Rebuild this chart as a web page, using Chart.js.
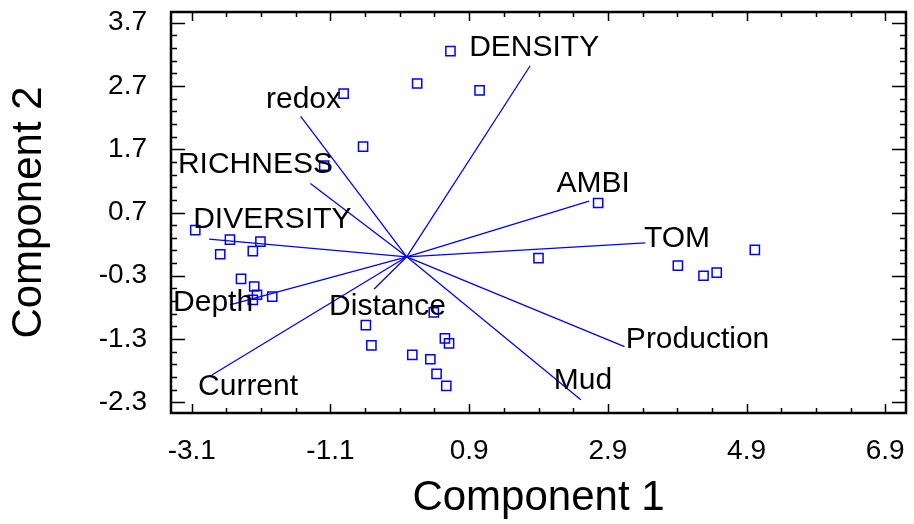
<!DOCTYPE html>
<html>
<head>
<meta charset="utf-8">
<script src="https://cdn.jsdelivr.net/npm/chart.js@4/dist/chart.umd.min.js"></script>
<style>
  html, body { margin: 0; padding: 0; background: #fff; }
  #wrap { width: 914px; height: 524px; }
</style>
</head>
<body>
<div id="wrap"><canvas id="biplot"></canvas></div>
<script>
// Tick labels
const xTicks = [-3.1, -1.1, 0.9, 2.9, 4.9, 6.9];
const yTicks = [-2.3, -1.3, -0.3, 0.7, 1.7, 2.7, 3.7];

// Observation scores (squares)
const scoreX = [0.63, 0.15, 1.05, -0.91, -0.63, -1.19, 2.76,
  -3.05, -2.55, -2.11, -2.69, -2.22, -2.39, -2.20, -2.16, -2.22, -1.94,
  0.39, -0.59, -0.51, 0.55, 0.61, 0.08, 0.34, 0.43, 0.57,
  1.90, 3.91, 4.28, 4.47, 5.02];
const scoreY = [3.25, 2.74, 2.63, 2.58, 1.74, 1.44, 0.85,
  0.42, 0.27, 0.24, 0.04, 0.09, -0.35, -0.47, -0.60, -0.68, -0.63,
  -0.88, -1.08, -1.40, -1.29, -1.37, -1.55, -1.62, -1.85, -2.04,
  -0.02, -0.14, -0.30, -0.25, 0.11];

// Variable loadings (vectors from origin)
const varNames = ['DENSITY', 'redox', 'RICHNESS', 'DIVERSITY', 'Depth', 'Current',
  'Distance', 'AMBI', 'TOM', 'Production', 'Mud'];
const loadX = [1.78, -1.53, -1.39, -2.85, -2.55, -2.81, -0.47, 2.63, 3.44, 3.14, 2.51];
const loadY = [3.02, 2.22, 1.16, 0.28, -0.76, -1.87, -0.51, 0.88, 0.22, -1.42, -2.26];
// where each variable name sits (data units, left edge / middle)
const labelX = [0.9, -2.03, -3.3, -3.08, -3.37, -3.01, -1.12, 2.16, 3.42, 3.16, 2.12];
const labelY = [3.31, 2.48, 1.46, 0.59, -0.73, -2.06, -0.79, 1.16, 0.29, -1.31, -1.96];

const BLUE = '#0000ff';
const FONT = '"Liberation Sans", Arial, sans-serif';

const datasets = [{
  type: 'scatter',
  data: scoreX.map((x, i) => ({ x: x, y: scoreY[i] })),
  pointStyle: 'rect',
  pointRadius: 6.5,
  borderColor: BLUE,
  backgroundColor: 'rgba(0,0,0,0)',
  borderWidth: 1.5
}];
varNames.forEach((name, i) => {
  datasets.push({
    type: 'line',
    label: name,
    data: [{ x: 0, y: 0 }, { x: loadX[i], y: loadY[i] }],
    borderColor: BLUE,
    borderWidth: 1.3,
    pointRadius: 0,
    fill: false
  });
});

function minorList(majors, parts) {
  const out = [];
  for (let i = 0; i < majors.length - 1; i++) {
    const step = (majors[i + 1] - majors[i]) / parts;
    for (let k = 1; k < parts; k++) out.push(majors[i] + k * step);
  }
  return out;
}

// frame, inward ticks and variable names
const framePlugin = {
  id: 'frame',
  afterDatasetsDraw(chart) {
    const { ctx, chartArea: a, scales } = chart;
    const xs = scales.x, ys = scales.y;
    ctx.save();
    ctx.strokeStyle = '#000';
    ctx.lineWidth = 1.5;
    ctx.beginPath();
    const tickX = (vals, len) => vals.forEach(v => {
      const px = Math.round(xs.getPixelForValue(v)) + 0.5;
      ctx.moveTo(px, a.bottom); ctx.lineTo(px, a.bottom - len);
      ctx.moveTo(px, a.top); ctx.lineTo(px, a.top + len);
    });
    const tickY = (vals, len) => vals.forEach(v => {
      const py = Math.round(ys.getPixelForValue(v)) + 0.5;
      ctx.moveTo(a.left, py); ctx.lineTo(a.left + len, py);
      ctx.moveTo(a.right, py); ctx.lineTo(a.right - len, py);
    });
    tickX(xTicks, 9);
    tickX(minorList(xTicks, 4), 5);
    tickY(yTicks, 14);
    tickY(minorList(yTicks, 5), 6);
    ctx.stroke();
    ctx.lineWidth = 2.5;
    ctx.strokeRect(a.left, a.top, a.right - a.left, a.bottom - a.top);

    ctx.fillStyle = '#000';
    ctx.font = '30px ' + FONT;
    ctx.textAlign = 'left';
    ctx.textBaseline = 'middle';
    varNames.forEach((name, i) => {
      ctx.fillText(name, xs.getPixelForValue(labelX[i]), ys.getPixelForValue(labelY[i]));
    });
    ctx.restore();
  }
};

new Chart(document.getElementById('biplot'), {
  data: { datasets: datasets },
  options: {
    responsive: true,
    maintainAspectRatio: false,
    animation: false,
    layout: { padding: { left: 0, right: -3, top: 12, bottom: 0 } },
    plugins: { legend: { display: false }, tooltip: { enabled: false } },
    scales: {
      x: {
        type: 'linear',
        min: -3.4,
        max: 7.2,
        grid: { display: false },
        border: { display: false },
        afterBuildTicks: s => { s.ticks = xTicks.map(v => ({ value: v })); },
        afterFit: s => { s.height = 111; s.paddingLeft = 0; s.paddingRight = 0; },
        ticks: {
          padding: 13,
          color: '#000',
          font: { family: FONT, size: 28 },
          callback: v => v.toFixed(1)
        },
        title: {
          display: true,
          text: 'Component 1',
          color: '#000',
          font: { family: FONT, size: 42 },
          padding: { top: 0, bottom: 0 }
        }
      },
      y: {
        type: 'linear',
        min: -2.47,
        max: 3.87,
        grid: { display: false },
        border: { display: false },
        afterBuildTicks: s => { s.ticks = yTicks.map(v => ({ value: v })); },
        afterFit: s => { s.width = 171; s.paddingTop = 0; s.paddingBottom = 0; },
        ticks: {
          padding: 16,
          color: '#000',
          font: { family: FONT, size: 28 },
          callback: v => v.toFixed(1)
        },
        title: {
          display: true,
          text: 'Component 2',
          color: '#000',
          font: { family: FONT, size: 42 },
          padding: { top: 4, bottom: 0 }
        }
      }
    }
  },
  plugins: [framePlugin]
});
</script>
</body>
</html>
